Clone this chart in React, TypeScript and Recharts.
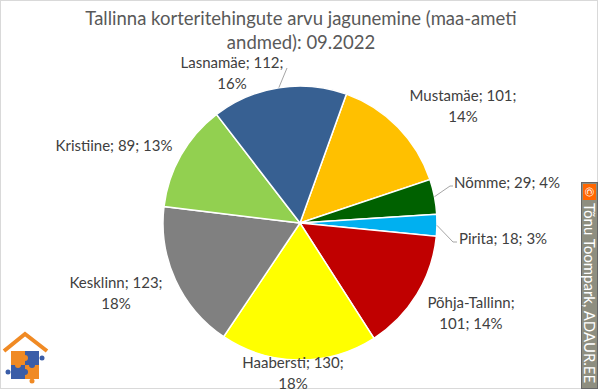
import { PieChart, Pie, Cell } from 'recharts';

// Tallinn apartment deals by district, 09.2022 (clockwise from Mustamäe)
const districts = ['Mustamäe', 'Nõmme', 'Pirita', 'Põhja-Tallinn', 'Haabersti', 'Kesklinn', 'Kristiine', 'Lasnamäe'];
const deals = [101, 29, 18, 101, 130, 123, 89, 112];
const shares = ['14%', '4%', '3%', '14%', '18%', '18%', '13%', '16%'];

const colors = ['#FFC000', '#006100', '#00B0F0', '#C00000', '#FFFF00', '#808080', '#92D050', '#376092'];

const data = districts.map((name, i) => ({ name, value: deals[i], share: shares[i] }));

// how each data label is broken and placed (Excel "best fit" result)
type LabelLayout = { split: 'one' | 'share' | 'name'; x: number; y: number; anchor: 'start' | 'middle'; leader?: number[][] };
const labelLayout: Record<string, LabelLayout> = {
  'Mustamäe': { split: 'share', x: 463, y: 95, anchor: 'middle' },
  'Nõmme': { split: 'one', x: 454, y: 182, anchor: 'start', leader: [[450, 186], [453, 186]] },
  'Pirita': { split: 'one', x: 459, y: 238, anchor: 'start', leader: [[453, 242], [457, 242]] },
  'Põhja-Tallinn': { split: 'name', x: 471, y: 302, anchor: 'middle' },
  'Haabersti': { split: 'share', x: 293, y: 362, anchor: 'middle' },
  'Kesklinn': { split: 'share', x: 116, y: 282, anchor: 'middle' },
  'Kristiine': { split: 'one', x: 114, y: 145, anchor: 'middle' },
  'Lasnamäe': { split: 'share', x: 232, y: 62, anchor: 'middle', leader: [[287, 68]] },
};

const RADIAN = Math.PI / 180;
const FONT = 'Lato, "Open Sans", sans-serif';

function renderLabel(props: any) {
  const { cx, cy, midAngle, outerRadius, name, value, payload } = props;
  const lay = labelLayout[name];
  if (!lay) return null;
  const share = payload?.share ?? '';
  let lines: string[];
  if (lay.split === 'one') lines = [`${name}; ${value}; ${share}`];
  else if (lay.split === 'share') lines = [`${name}; ${value};`, share];
  else lines = [`${name};`, `${value}; ${share}`];

  let leaderPath = null;
  if (lay.leader) {
    const sx = cx + outerRadius * Math.cos(-midAngle * RADIAN);
    const sy = cy + outerRadius * Math.sin(-midAngle * RADIAN);
    const pts = [[sx, sy], ...lay.leader].map((p) => p.join(',')).join(' ');
    leaderPath = <polyline points={pts} fill="none" stroke="#A6A6A6" strokeWidth={1} />;
  }

  return (
    <g>
      {leaderPath}
      <text x={lay.x} y={lay.y} textAnchor={lay.anchor} fill="#404040" fontFamily={FONT} fontSize={15}>
        {lines.map((l, i) => (
          <tspan key={i} x={lay.x} y={lay.y + i * 21} dominantBaseline="central">
            {l}
          </tspan>
        ))}
      </text>
    </g>
  );
}

function Logo() {
  return (
    <g>
      <polyline points="4,351 25,334 47,351" fill="none" stroke="#F08A24" strokeWidth={4} />
      <rect x={11} y={351} width={14} height={14} fill="#F08A24" />
      <rect x={25} y={351} width={14} height={14} fill="#3A5DA8" />
      <rect x={11} y={365} width={14} height={14} fill="#3A5DA8" />
      <rect x={25} y={365} width={14} height={14} fill="#F08A24" />
      <circle cx={25} cy={358} r={3} fill="#F08A24" />
      <circle cx={18} cy={365} r={3} fill="#F08A24" />
      <circle cx={32} cy={365} r={3} fill="#3A5DA8" />
      <circle cx={25} cy={372} r={3} fill="#3A5DA8" />
      <circle cx={8} cy={372} r={2.5} fill="#3A5DA8" />
      <circle cx={42} cy={358} r={2.5} fill="#3A5DA8" />
      <circle cx={32} cy={381} r={2.5} fill="#F08A24" />
    </g>
  );
}

function Watermark() {
  return (
    <g>
      <rect x={581.5} y={182.5} width={16} height={206} fill="#8E8E80" stroke="#666" strokeWidth={1} />
      <rect x={583} y={184} width={13} height={16} fill="#FF6600" />
      <text x={589.5} y={192} textAnchor="middle" dominantBaseline="central" fill="#fff" fontFamily={FONT} fontSize={12} transform="rotate(90 589.5 192)">
        ©
      </text>
      <text x={589.5} y={203} textAnchor="start" dominantBaseline="central" fill="#fff" fontFamily={FONT} fontSize={15} transform="rotate(90 589.5 203)">
        Tõnu Toompark, ADAUR.EE
      </text>
    </g>
  );
}

export default function App() {
  return (
    <div style={{ width: 600, height: 392, position: 'relative', background: '#fff' }}>
      <style>{'body{margin:0}'}</style>
      <PieChart width={600} height={392} margin={{ top: 0, right: 0, bottom: 0, left: 0 }}>
        <rect x={0.5} y={0.5} width={597} height={388} fill="#fff" stroke="#D9D9D9" />
        <text x={301} y={18} textAnchor="middle" dominantBaseline="central" fill="#595959" fontFamily={FONT} fontSize={18.5}>
          Tallinna korteritehingute arvu jagunemine (maa-ameti
        </text>
        <text x={301} y={42} textAnchor="middle" dominantBaseline="central" fill="#595959" fontFamily={FONT} fontSize={18.5}>
          andmed): 09.2022
        </text>
        <Pie
          data={data}
          dataKey="value"
          nameKey="name"
          cx={300}
          cy={223}
          outerRadius={137}
          startAngle={70.2}
          endAngle={-289.8}
          stroke="#fff"
          strokeWidth={1.5}
          label={renderLabel}
          labelLine={false}
          isAnimationActive={false}
        >
          {data.map((d, i) => (
            <Cell key={d.name} fill={colors[i]} />
          ))}
        </Pie>
        <Logo />
        <Watermark />
      </PieChart>
    </div>
  );
}
